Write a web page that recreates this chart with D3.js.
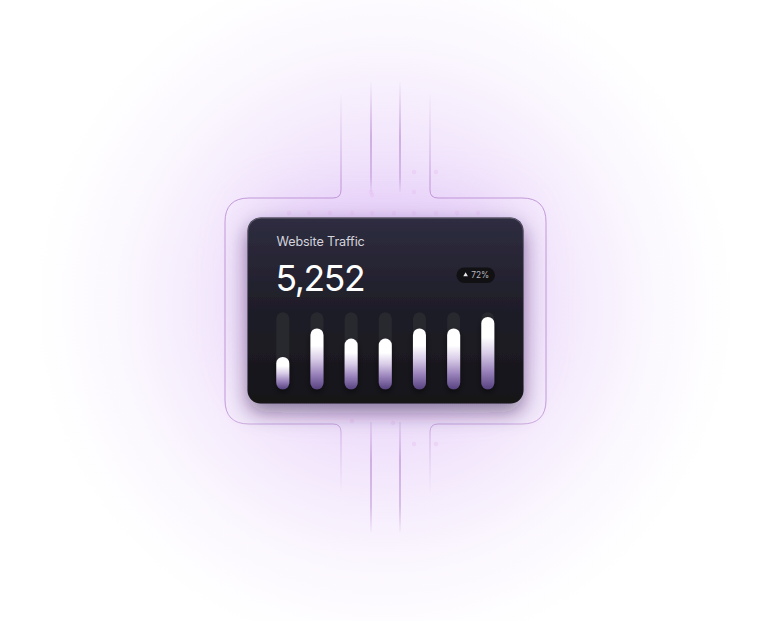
<!DOCTYPE html>
<html>
<head>
<meta charset="utf-8">
<script src="https://cdn.jsdelivr.net/npm/d3@7"></script>
<style>
  html, body { margin: 0; padding: 0; background: #ffffff; }
  svg { display: block; }
</style>
</head>
<body>
<div id="chart"></div>
<script>
// ---- data ----
const categories = ["Mon", "Tue", "Wed", "Thu", "Fri", "Sat", "Sun"];
const values = [42, 79, 66, 66, 79, 79, 94];
const maxValue = 100;
const titleText = "Website Traffic";
const totalText = "5,252";
const changeText = "72%";

const W = 769, H = 621;
const svg = d3.select("#chart").append("svg").attr("width", W).attr("height", H);
const defs = svg.append("defs");

// background glow
const glow = defs.append("radialGradient").attr("id", "glow")
  .attr("gradientUnits", "userSpaceOnUse").attr("cx", 385).attr("cy", 305).attr("r", 350);
[[0, "#e3c7f8"], [0.28, "#ebd9fa"], [0.5, "#f3e8fc"], [0.75, "#fbf7fe"], [1, "#ffffff"]]
  .forEach(([o, c]) => glow.append("stop").attr("offset", o).attr("stop-color", c));
svg.append("rect").attr("width", W).attr("height", H).attr("fill", "#fff");
svg.append("rect").attr("width", W).attr("height", H).attr("fill", "url(#glow)");

// extra purple halo behind card
defs.append("filter").attr("id", "blur30").attr("x", "-50%").attr("y", "-50%").attr("width", "200%").attr("height", "200%")
  .append("feGaussianBlur").attr("stdDeviation", 28);
svg.append("rect").attr("x", 255).attr("y", 205).attr("width", 260).attr("height", 180).attr("rx", 30)
  .attr("fill", "#d9b4f3").attr("opacity", 0.4).attr("filter", "url(#blur30)");

// line gradients
function vGrad(id, y1, y2, stops) {
  const g = defs.append("linearGradient").attr("id", id).attr("gradientUnits", "userSpaceOnUse")
    .attr("x1", 0).attr("x2", 0).attr("y1", y1).attr("y2", y2);
  stops.forEach(([o, op]) => g.append("stop").attr("offset", o).attr("stop-color", "#b27fcc").attr("stop-opacity", op));
}
vGrad("sideGrad", 90, 495, [[0, 0], [0.22, 0.75], [0.78, 0.75], [1, 0]]);
vGrad("midTop", 80, 195, [[0, 0], [0.5, 0.9], [0.85, 0.7], [1, 0]]);
vGrad("midBot", 420, 535, [[0, 0.2], [0.35, 0.9], [0.75, 0.7], [1, 0]]);

const leftPath = "M341,95 L341,190 Q341,198 333,198 L249,198 Q225,198 225,222 L225,400 Q225,424 249,424 L333,424 Q341,424 341,432 L341,492";
const rightPath = "M430,95 L430,190 Q430,198 438,198 L522,198 Q546,198 546,222 L546,400 Q546,424 522,424 L438,424 Q430,424 430,432 L430,492";
[leftPath, rightPath].forEach(p => svg.append("path").attr("d", p).attr("fill", "none")
  .attr("stroke", "url(#sideGrad)").attr("stroke-width", 1));
[371, 400].forEach(x => {
  svg.append("line").attr("x1", x).attr("x2", x).attr("y1", 82).attr("y2", 192)
    .attr("stroke", "url(#midTop)").attr("stroke-width", 1.2);
  svg.append("line").attr("x1", x).attr("x2", x).attr("y1", 422).attr("y2", 532)
    .attr("stroke", "url(#midBot)").attr("stroke-width", 1.2);
});

// decorative dots
const dotData = [[289,213],[309,213],[330,213],[352,213],[372,213],[394,213],[414,213],[436,213],[457,213],[478,213],
  [371,192],[414,192],[436,172],[414,172],[352,421],[393,423],[414,444],[436,444],[372,195]];
svg.append("g").selectAll("circle").data(dotData).join("circle")
  .attr("cx", d => d[0]).attr("cy", d => d[1]).attr("r", 2.2)
  .attr("fill", "#e4b6ee").attr("opacity", 0.3);

// card
const card = { x: 247.5, y: 217.5, w: 276, h: 186, r: 13 };
const shadow = defs.append("filter").attr("id", "cardShadow").attr("x", "-30%").attr("y", "-30%").attr("width", "160%").attr("height", "170%");
shadow.append("feDropShadow").attr("dx", 0).attr("dy", 9).attr("stdDeviation", 10)
  .attr("flood-color", "#2b1740").attr("flood-opacity", 0.5);
const cardGrad = defs.append("linearGradient").attr("id", "cardGrad").attr("x1", 0).attr("x2", 0).attr("y1", 0).attr("y2", 1);
[[0, "#2f2d41"], [0.45, "#201f2a"], [1, "#151518"]].forEach(([o, c]) => cardGrad.append("stop").attr("offset", o).attr("stop-color", c));
const rimGrad = defs.append("linearGradient").attr("id", "rimGrad").attr("x1", 0).attr("x2", 0).attr("y1", 0).attr("y2", 1);
[[0, "#6b6878", 0.9], [0.2, "#3a3846", 0.3], [1, "#1a1a1e", 0.2]].forEach(([o, c, op]) =>
  rimGrad.append("stop").attr("offset", o).attr("stop-color", c).attr("stop-opacity", op));
svg.append("rect").attr("x", card.x).attr("y", card.y).attr("width", card.w).attr("height", card.h)
  .attr("rx", card.r).attr("fill", "url(#cardGrad)").attr("filter", "url(#cardShadow)");
svg.append("rect").attr("x", card.x + 0.5).attr("y", card.y + 0.5).attr("width", card.w - 1).attr("height", card.h - 1)
  .attr("rx", card.r).attr("fill", "none").attr("stroke", "url(#rimGrad)").attr("stroke-width", 1);

// texts
svg.append("text").attr("x", 276.5).attr("y", 246).text(titleText)
  .attr("font-family", "Inter, 'Noto Sans', sans-serif").attr("font-size", 12.6).attr("fill", "#d4d3dc")
  .attr("letter-spacing", -0.1);
svg.append("text").attr("x", 275.5).attr("y", 291).text(totalText)
  .attr("font-family", "Inter, 'Noto Sans', sans-serif").attr("font-size", 35.5).attr("fill", "#ffffff")
  .attr("letter-spacing", -1.4);

// badge
const badge = svg.append("g");
badge.append("rect").attr("x", 456.5).attr("y", 267.5).attr("width", 38.5).attr("height", 15.5).attr("rx", 7.75)
  .attr("fill", "#111114");
badge.append("path").attr("d", d3.symbol(d3.symbolTriangle, 9)()).attr("transform", "translate(465.6,274.9)")
  .attr("fill", "#e8e8ea");
badge.append("text").attr("x", 471.3).attr("y", 278.4).text(changeText)
  .attr("font-family", "Inter, 'Noto Sans', sans-serif").attr("font-size", 8.3).attr("fill", "#b9b8c0");

// bars
const x = d3.scaleBand().domain(categories).range([276.3, 494.3]).paddingInner(0.62).paddingOuter(0);
const y = d3.scaleLinear().domain([0, maxValue]).range([389.3, 312.3]);

const barGrad = defs.append("linearGradient").attr("id", "barGrad").attr("x1", 0).attr("x2", 0).attr("y1", 0).attr("y2", 1);
[[0, "#ffffff"], [0.28, "#ffffff"], [0.5, "#d9cde8"], [0.75, "#9a83bb"], [1, "#574280"]]
  .forEach(([o, c]) => barGrad.append("stop").attr("offset", o).attr("stop-color", c));
const barShadow = defs.append("filter").attr("id", "barShadow").attr("x", "-80%").attr("y", "-30%").attr("width", "260%").attr("height", "160%");
barShadow.append("feDropShadow").attr("dx", 0).attr("dy", 3).attr("stdDeviation", 3)
  .attr("flood-color", "#000").attr("flood-opacity", 0.5);

const bars = svg.append("g");
bars.selectAll(".track").data(categories).join("rect").attr("class", "track")
  .attr("x", d => x(d)).attr("y", y(maxValue)).attr("width", x.bandwidth()).attr("height", y(0) - y(maxValue))
  .attr("rx", x.bandwidth() / 2).attr("fill", "#2a2a31").attr("opacity", 0.85);
bars.selectAll(".bar").data(values).join("rect").attr("class", "bar")
  .attr("x", (d, i) => x(categories[i])).attr("y", d => y(d)).attr("width", x.bandwidth())
  .attr("height", d => y(0) - y(d)).attr("rx", x.bandwidth() / 2)
  .attr("fill", "url(#barGrad)").attr("filter", "url(#barShadow)");
</script>
</body>
</html>
